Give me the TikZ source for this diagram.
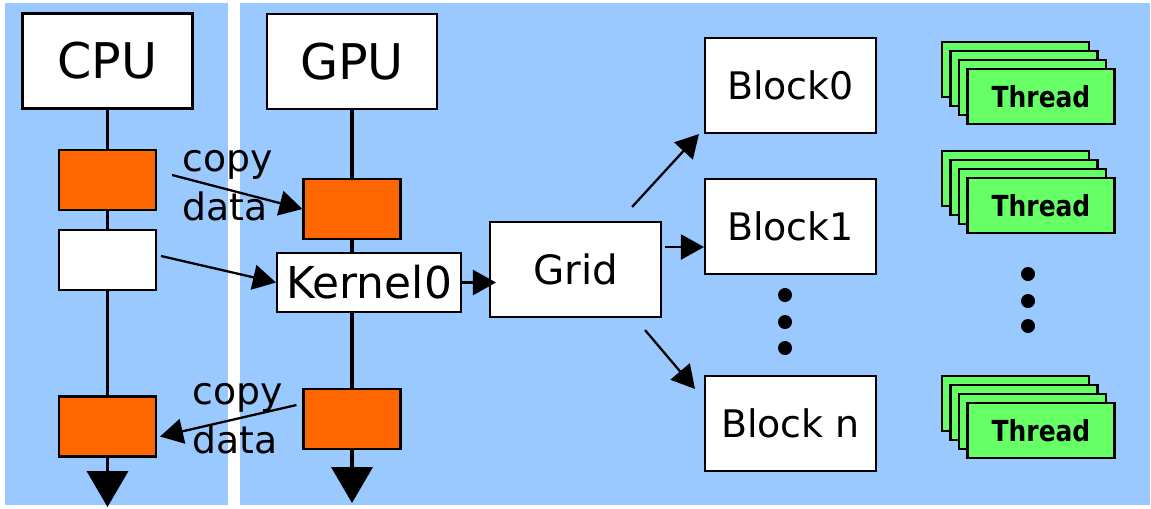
\documentclass[tikz,border=0pt]{standalone}
\usepackage{fontspec}
\setmainfont{DejaVu Sans}
\newfontfamily\threadfont[FakeStretch=0.86]{DejaVu Sans}
\usepackage{xcolor}
\definecolor{panelBlue}{RGB}{153, 201, 255}
\definecolor{memOrange}{RGB}{255, 102, 0}
\definecolor{threadGreen}{RGB}{102, 255, 102}
\usepackage{tikz}
\usetikzlibrary{arrows.meta, backgrounds}

\begin{document}
\begin{tikzpicture}[x=0.02cm, y=-0.02cm,
    hw/.style={
        rectangle, draw=black, fill=white, line width=1.2pt,
        minimum width=3.4cm, minimum height=1.9cm, inner sep=0pt,
        font=\fontsize{28}{30}\selectfont
    },
    mem/.style={
        rectangle, draw=black, fill=memOrange, line width=1.2pt,
        minimum width=1.94cm, minimum height=1.2cm, inner sep=0pt
    },
    kern/.style={
        rectangle, draw=black, fill=white, line width=1.2pt,
        minimum width=3.68cm, minimum height=1.18cm, inner sep=0pt,
        font=\fontsize{25}{28}\selectfont
    },
    block/.style={
        rectangle, draw=black, fill=white, line width=1.2pt,
        minimum width=3.42cm, minimum height=1.9cm, inner sep=0pt,
        font=\fontsize{21.6}{24}\selectfont
    },
    thread/.style={
        rectangle, draw=black, fill=threadGreen, line width=1.3pt,
        minimum width=2.94cm, minimum height=1.1cm, inner sep=0pt,
        font=\threadfont\fontsize{16.5}{18}\selectfont\bfseries
    },
    note/.style={align=left, inner sep=0pt, font=\fontsize{21.5}{28}\selectfont},
    arr/.style={-{Triangle[length=0.46cm, width=0.5cm]}, line width=1.3pt},
    tline/.style={-{Triangle[length=0.72cm, width=0.82cm]}, line width=2.2pt}
]
\useasboundingbox (0,0) rectangle (1151,508);

\node[hw] (cpu) at (107.5,61)  {CPU};
\node[hw] (gpu) at (352,61.5)  {GPU};

\node[mem] (c1) at (107.5,180)            {};
\node[mem, fill=white] (c2) at (107.5,260) {};
\node[mem] (c3) at (107.5,426.5)          {};

\node[mem] (g1) at (352,209) {};
\node[kern] (k0) at (369,282.5) {Kernel0};
\node[mem] (g3) at (352,419) {};

\node[block, font=\fontsize{23}{26}\selectfont] (grid) at (575.5,269.5) {Grid};
\node[block] (b0) at (790.5,85.5)  {Block0};
\node[block] (b1) at (790.5,226.5) {Block1};
\node[block] (bn) at (790.5,423.5) {Block n};

\node[note] (cp1) at (227.5,185.5) {copy\\data};
\node[note] (cp2) at (237.5,419)   {copy\\data};

\foreach \ty [count=\k] in {42,151,376} {
    \foreach \i in {0,1,2}
        \node[thread] (t\k-\i) at ({1015.5+8.5*\i},{\ty+27.5+9*\i}) {};
    \node[thread] (t\k) at (1041,{\ty+54.5}) {Thread};
}

\foreach \dy in {295,322,348} \fill (785,\dy) circle (0.14cm);
\foreach \dy in {274,301,326} \fill (1028,\dy) circle (0.14cm);

\coordinate (cend) at (107.5,507);
\coordinate (gend) at (352,503);
\coordinate (gb1) at ([shift={(3,-22.5)}]grid.east);

\draw[arr] ([shift={(15,-5)}]c1.east) -- (g1.west);
\draw[arr] ([shift={(4,-4)}]c2.east) -- (k0.west);
\draw[arr] ([shift={(-6,-14)}]g3.west) -- ([shift={(3,10)}]c3.east);
\draw[arr, shorten >=-0.14cm] (k0.east) -- (k0.east -| grid.west);

\draw[arr] ([shift={(-30,-14)}]grid.north east) -- ([shift={(-5,0)}]b0.south west);
\draw[arr] (gb1) -- (gb1 -| b1.west);
\draw[arr] ([shift={(-17,12)}]grid.south east) -- ([shift={(-9,14)}]bn.north west);

\begin{scope}[on background layer]
\fill[panelBlue] (5,3) rectangle (228,505);
\fill[panelBlue] (240,3) rectangle (1150,505);
\draw[tline] (cpu.south) -- (cend);
\draw[tline] (gpu.south) -- (gend);
\end{scope}

\end{tikzpicture}
\end{document}
